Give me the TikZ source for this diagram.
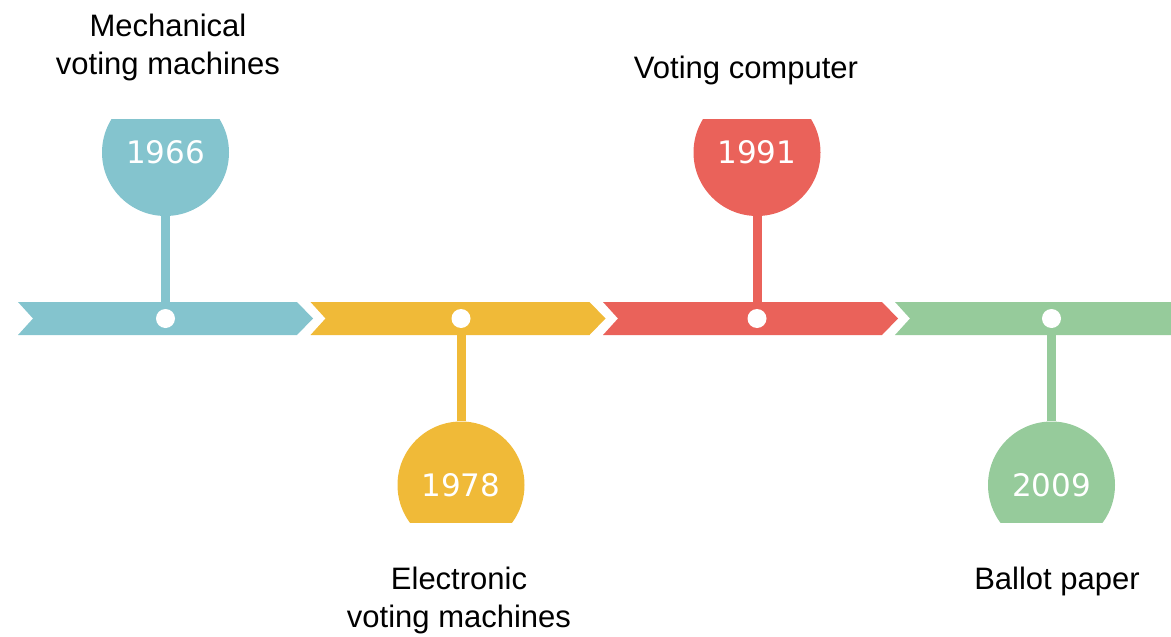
\documentclass[tikz,border=0pt]{standalone}
\usepackage{fontspec}
\usepackage{xcolor}
\usepackage{tikz}
\newfontfamily\labelfont{Liberation Sans}
\newfontfamily\yearfont{DejaVu Sans}
\definecolor{tlblue}{RGB}{132,196,206}
\definecolor{tlyellow}{RGB}{240,186,56}
\definecolor{tlred}{RGB}{234,98,90}
\definecolor{tlgreen}{RGB}{150,203,155}

\begin{document}
\begin{tikzpicture}[x=1pt, y=-1pt,
                yearcirc/.style={circle, minimum size=127pt, inner sep=0pt, text=white, font=\fontsize{31}{37}\selectfont\yearfont},
                dotnode/.style={circle, fill=white, minimum size=19pt, inner sep=0pt},
                stem/.style={line width=9pt},
                tllabel/.style={anchor=north, inner sep=0pt, align=center, font=\fontsize{31}{38}\selectfont\labelfont}]
                \useasboundingbox (0,0) rectangle (1171,637);
                \foreach \x/\c in {18/tlblue, 310.5/tlyellow, 603/tlred}
                    \fill [\c] (\x,302) -- ++(279,0) -- ++(16,16.5) -- ++(-16,16.5) -- ++(-279,0) -- ++(15,-16.5) -- cycle;
                \fill [tlgreen] (895,302) -- (1171,302) -- (1171,335) -- (895,335) -- (910,318.5) -- cycle;
                \begin{scope}
                    \clip (0,119) rectangle (1171,522.5);
                    \node [yearcirc, fill=tlblue] (c1966) at (165.5,152.5) {1966};
                    \node [yearcirc, fill=tlyellow] (c1978) at (461,485) {1978};
                    \node [yearcirc, fill=tlred] (c1991) at (757,152.5) {1991};
                    \node [yearcirc, fill=tlgreen] (c2009) at (1051.5,485) {2009};
                \end{scope}
                \node [dotnode] (d1966) at (165.5,318.5) {};
                \node [dotnode] (d1978) at (461,318.5) {};
                \node [dotnode] (d1991) at (757,318.5) {};
                \node [dotnode] (d2009) at (1051.5,318.5) {};
                \draw [stem, tlblue] (c1966) -- (d1966);
                \draw [stem, tlyellow] (c1978) -- (d1978);
                \draw [stem, tlred] (c1991) -- (d1991);
                \draw [stem, tlgreen] (c2009) -- (d2009);
                \node [tllabel] (l1966) at (168,13.8) {Mechanical\\voting machines};
                \node [tllabel] (l1991) at (746,56) {Voting computer};
                \node [tllabel] (l1978) at (459,567) {Electronic\\voting machines};
                \node [tllabel] (l2009) at (1057,567) {Ballot paper};
            \end{tikzpicture}
\end{document}
